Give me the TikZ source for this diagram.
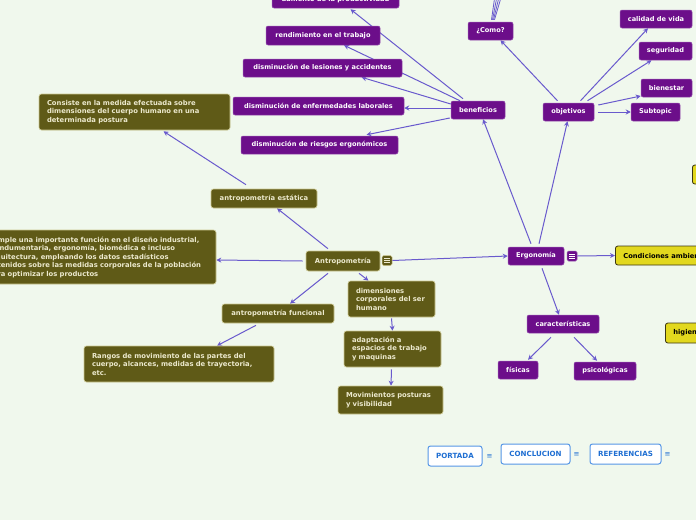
\documentclass[tikz,border=0pt]{standalone}
\usepackage{fontspec}
\setmainfont{DejaVu Sans}
\usetikzlibrary{arrows.meta,calc}
\definecolor{bg}{RGB}{240,248,237}
\definecolor{pur}{RGB}{108,14,138}
\definecolor{purb}{RGB}{150,80,175}
\definecolor{olv}{RGB}{95,90,23}
\definecolor{olvb}{RGB}{205,200,145}
\definecolor{olvt}{RGB}{236,233,205}
\definecolor{lnk}{RGB}{105,90,205}
\definecolor{yel}{RGB}{226,216,30}
\definecolor{yelb}{RGB}{60,55,20}
\definecolor{blu}{RGB}{30,110,210}
\definecolor{blub}{RGB}{85,150,230}
\pgfdeclarelayer{bglayer}
\pgfdeclarelayer{edges}
\pgfsetlayers{bglayer,edges,main}
\begin{document}
\begin{tikzpicture}[x=1pt,y=-1pt,
  pbox/.style={draw=purb, fill=pur, text=white, rounded corners=2pt, line width=0.5pt,
    font=\fontsize{6.6}{7.5}\selectfont\bfseries, inner sep=0pt},
  obox/.style={draw=olvb, fill=olv, text=olvt, rounded corners=2.5pt, line width=0.6pt,
    font=\fontsize{6.8}{8.5}\selectfont\bfseries, inner sep=0pt},
  ybox/.style={draw=yelb, fill=yel, text=black, rounded corners=2.5pt, line width=0.8pt,
    font=\fontsize{6.7}{7.5}\selectfont\bfseries, inner ysep=0pt, inner xsep=8pt, anchor=west},
  bbox/.style={draw=blub, fill=white, text=blu, rounded corners=2.5pt, line width=1pt,
    font=\fontsize{7.1}{7.5}\selectfont\bfseries, inner sep=0pt},
  bicon/.style={text=blu, font=\fontsize{7}{7}\selectfont, inner sep=0pt},
  conn/.style={draw=lnk, line width=1pt, -{Stealth[length=5pt,width=5pt]}},
  plain/.style={draw=lnk, line width=0.8pt},
]
\begin{pgfonlayer}{bglayer}
\fill[bg] (0,0) rectangle (696,520);
\end{pgfonlayer}
\useasboundingbox (0,0) rectangle (696,520);

% purple nodes
\node[pbox, minimum width=127, minimum height=17] (aum) at (335.5,-0.5) {aumento de la productividad};
\node[pbox, minimum width=114, minimum height=19] (rend) at (323,35.5) {rendimiento en el trabajo};
\node[pbox, minimum width=159, minimum height=18] (les) at (322.5,68) {disminución de lesiones y accidentes};
\node[pbox, minimum width=171, minimum height=18] (enf) at (318.5,106) {disminución de enfermedades laborales};
\node[pbox, minimum width=157, minimum height=18] (rie) at (319.5,145) {disminución de riesgos ergonómicos};
\node[pbox, minimum width=54, minimum height=18] (ben) at (478,110) {beneficios};
\node[pbox, minimum width=45, minimum height=18] (como) at (490.5,31) {¿Como?};
\node[pbox, minimum width=51, minimum height=18] (obj) at (568.5,112) {objetivos};
\node[pbox, minimum width=72, minimum height=18] (cal) at (656,19) {calidad de vida};
\node[pbox, minimum width=53, minimum height=18] (seg) at (665.5,51) {seguridad};
\node[pbox, minimum width=51, minimum height=18] (bien) at (666.5,88) {bienestar};
\node[pbox, minimum width=49, minimum height=18] (sub) at (655.5,112) {Subtopic};
\node[pbox, minimum width=56, minimum height=18] (erg) at (536,256) {Ergonomía};
\node[draw=purb, fill=pur, rounded corners=1.5pt, minimum size=10, inner sep=0pt, line width=0.5pt] (ergicon) at (572,256) {};
\foreach \d in {-2.2,0,2.2} \draw[white, line width=0.6pt] ($(ergicon.center)+(-3,\d)$) -- ($(ergicon.center)+(3,\d)$);
\node[pbox, minimum width=72, minimum height=18] (car) at (563,324) {características};
\node[pbox, minimum width=40, minimum height=18] (fis) at (518,370) {físicas};
\node[pbox, minimum width=62, minimum height=18] (psi) at (605,371) {psicológicas};

% yellow nodes
\node[ybox, minimum height=19] (cond) at (615,255.5) {Condiciones ambientales};
\node[ybox, minimum height=19, minimum width=60] (ytop) at (692,174.5) {};
\node[ybox, minimum height=20] (hig) at (665,333) {higiene};

% olive nodes
\node[obox, minimum width=74, minimum height=20] (antro) at (343,261) {Antropometría};
\node[draw=olvb, fill=olv, rounded corners=1.5pt, minimum size=10, inner sep=0pt, line width=0.5pt] (antroicon) at (387,260.5) {};
\foreach \d in {-2.2,0,2.2} \draw[olvt, line width=0.6pt] ($(antroicon.center)+(-3,\d)$) -- ($(antroicon.center)+(3,\d)$);
\node[obox, minimum width=106, minimum height=19] (est) at (264,198.5) {antropometría estática};
\node[obox, minimum width=191, minimum height=36, text width=175, align=left] (cons) at (134.5,112)
  {Consiste en la medida efectuada sobre\\dimensiones del cuerpo humano en una\\determinada postura};
\node[obox, minimum width=236, minimum height=54, text width=220, align=left] (cump) at (98,257)
  {Cumple una importante función en el diseño industrial,\\la indumentaria, ergonomía, biomédica e incluso\\arquitectura, empleando los datos estadísticos\\obtenidos sobre las medidas corporales de la población\\para optimizar los productos};
\node[obox, minimum width=112, minimum height=19] (fun) at (278,313.5) {antropometría funcional};
\node[obox, minimum width=190, minimum height=36, text width=174, align=left] (ran) at (179,364)
  {Rangos de movimiento de las partes del\\cuerpo, alcances, medidas de trayectoria,\\etc.};
\node[obox, minimum width=87, minimum height=36, text width=71, align=left] (dim) at (391.5,299)
  {dimensiones\\corporales del ser\\humano};
\node[obox, minimum width=97, minimum height=36, text width=81, align=left] (ada) at (392.5,349)
  {adaptación a\\espacios de trabajo\\y maquinas};
\node[obox, minimum width=105, minimum height=28, text width=89, align=left] (mov) at (390.5,400)
  {Movimientos posturas\\y visibilidad};

% blue nodes
\node[bbox, minimum width=54, minimum height=20] (port) at (455,456) {PORTADA};
\node[bicon] (porti) at (489.5,456.5) {≡};
\node[bbox, minimum width=69, minimum height=20] (conc) at (535.5,454) {CONCLUCION};
\node[bicon] (conci) at (576.5,454.5) {≡};
\node[bbox, minimum width=71, minimum height=20] (refs) at (625.5,454) {REFERENCIAS};
\node[bicon] (refsi) at (667.5,454.5) {≡};

\coordinate (cu1) at (500,-40);
\coordinate (cu2) at (504,-40);
\coordinate (cu3) at (508,-40);
\coordinate (cu4) at (512,-40);

\begin{pgfonlayer}{edges}
% connectors from beneficios
\draw[conn] ($(ben.north)+(-15,-2)$) -- ($(aum.south)+(15,1)$);
\draw[conn] ($(ben.north)+(-18,0)$) -- ($(rend.south)+(21,0)$);
\draw[conn] ($(ben.west)+(0,-6)$) -- ($(les.south)+(39,0)$);
\draw[conn] ($(ben.west)+(0,-2)$) -- ($(enf.east)+(0,2)$);
\draw[conn] ($(ben.west)+(-1,8)$) -- ($(rie.north)+(47,-1)$);

% objetivos
\draw[conn] ($(obj.north)+(-11,-2)$) -- ($(como.south)+(10,0)$);
\draw[conn] ($(obj.north)+(12,-2)$) -- ($(cal.south)+(-8,0)$);
\draw[conn] ($(obj.north)+(19,-2)$) -- ($(seg.south)+(-14,0)$);
\draw[conn] ($(obj.east)+(4,-7)$) -- ($(bien.west)+(0,8)$);
\draw[conn] ($(obj.east)+(4,0)$) -- (sub.west);

% como fan to off-canvas children
\draw[plain] ($(como.north)+(1,-2)$) -- (cu1);
\draw[plain] ($(como.north)+(2,-2)$) -- (cu2);
\draw[plain] ($(como.north)+(3,-2)$) -- (cu3);
\draw[plain] ($(como.north)+(4,-2)$) -- (cu4);

% ergonomia
\draw[conn] ($(erg.north)+(-5,-3)$) -- ($(ben.south)+(5,0)$);
\draw[conn] ($(erg.north)+(3,-3)$) -- ($(obj.south)+(-1,0)$);
\draw[conn] (antroicon.east) -- (erg.west);
\draw[conn] (ergicon.east) -- (cond.west);
\draw[conn] ($(erg.south)+(6,3)$) -- ($(car.north)+(-4,0)$);
\draw[conn] ($(car.south)+(-12,4)$) -- ($(fis.north)+(10,-1)$);
\draw[conn] ($(car.south)+(11,4)$) -- ($(psi.north)+(-8,-1)$);

% antropometria
\draw[conn] ($(antro.north)+(-15,-2)$) -- ($(est.south)+(13,0)$);
\draw[conn] ($(antro.west)+(-3,0)$) -- ($(cump.east)+(0,3)$);
\draw[conn] ($(antro.south)+(-15,2)$) -- ($(fun.north)+(12,0)$);
\draw[conn] ($(antro.south)+(16,2)$) -- ($(dim.north)+(-23,0)$);
\draw[conn] ($(est.north)+(-18,-4)$) -- ($(cons.south)+(29,1)$);
\draw[conn] ($(fun.south)+(-22,2)$) -- ($(ran.north)+(38,0)$);
\draw[conn] ($(dim.south)+(0,1)$) -- (ada.north);
\draw[conn] ($(ada.south)+(-1,2)$) -- ($(mov.north)+(0.5,0)$);
\end{pgfonlayer}
\end{tikzpicture}
\end{document}
